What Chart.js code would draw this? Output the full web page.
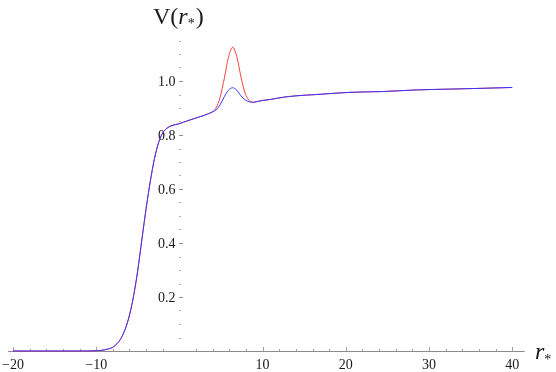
<!DOCTYPE html>
<html>
<head>
<meta charset="utf-8">
<script src="https://cdn.jsdelivr.net/npm/chart.js@4/dist/chart.umd.min.js"></script>
<style>
html,body{margin:0;padding:0;background:#fff;}
canvas{display:block;}
</style>
</head>
<body>
<canvas id="c" width="556" height="372"></canvas>
<script>
// r* sample positions
const rStar = [-20, -15, -12, -10, -9, -8.5, -8, -7.5, -7, -6.5, -6, -5.5, -5, -4.5, -4, -3.5, -3, -2.5, -2, -1.5, -1, 0, 1, 2, 3, 3.5, 4, 4.4, 4.9, 5.4, 5.9, 6.4, 6.9, 7.4, 7.9, 8.4, 8.9, 9.5, 10, 11, 12.5, 14, 16.5, 20.5, 24.5, 28.5, 32.5, 36.5, 40];
// blue potential
const blueV = [0, 0, 0, 0.001, 0.004, 0.008, 0.014, 0.027, 0.048, 0.082, 0.133, 0.205, 0.300, 0.415, 0.528, 0.628, 0.712, 0.772, 0.808, 0.825, 0.834, 0.842, 0.853, 0.863, 0.873, 0.879, 0.886, 0.893, 0.912, 0.942, 0.966, 0.975, 0.966, 0.945, 0.930, 0.923, 0.921, 0.925, 0.928, 0.932, 0.940, 0.945, 0.950, 0.958, 0.961, 0.967, 0.970, 0.973, 0.976];
// red potential
const redV = [0, 0, 0, 0.001, 0.004, 0.008, 0.014, 0.027, 0.048, 0.082, 0.133, 0.205, 0.300, 0.415, 0.528, 0.628, 0.712, 0.772, 0.808, 0.825, 0.834, 0.842, 0.853, 0.863, 0.873, 0.879, 0.886, 0.900, 0.940, 1.010, 1.088, 1.125, 1.090, 1.015, 0.955, 0.928, 0.922, 0.925, 0.928, 0.932, 0.940, 0.945, 0.950, 0.958, 0.961, 0.967, 0.970, 0.973, 0.976];
// tick labels
const xTickLabels = [-20, -10, 10, 20, 30, 40];
const xMinorTicks = [-20,-18,-16,-14,-12,-10,-8,-6,-4,-2,2,4,6,8,10,12,14,16,18,20,22,24,26,28,30,32,34,36,38,40];
const yTickLabels = [0.2, 0.4, 0.6, 0.8, 1.0];
const yMinorTicks = [0.05,0.1,0.15,0.25,0.3,0.35,0.45,0.5,0.55,0.65,0.7,0.75,0.85,0.9,0.95,1.05,1.1,1.15];

const toPts = (vals) => rStar.map((x, i) => ({x: x, y: vals[i]}));
const SERIF = "'Liberation Serif', 'Times New Roman', 'DejaVu Serif', serif";

const axesPlugin = {
  id: 'mathAxes',
  beforeDatasetsDraw(chart) {
    const ctx = chart.ctx;
    const xs = chart.scales.x, ys = chart.scales.y;
    const ca = chart.chartArea;
    const y0 = ys.getPixelForValue(0);
    const x0 = xs.getPixelForValue(0);
    ctx.save();
    // x axis line
    ctx.strokeStyle = '#8c8c8c';
    ctx.lineWidth = 1;
    ctx.beginPath();
    ctx.moveTo(ca.left, Math.round(y0) + 0.5);
    ctx.lineTo(ca.right, Math.round(y0) + 0.5);
    ctx.stroke();
    // x ticks
    ctx.strokeStyle = '#a0a0a0';
    xMinorTicks.forEach(v => {
      const px = Math.round(xs.getPixelForValue(v)) + 0.5;
      const len = (v % 10 === 0) ? 4 : 2;
      ctx.beginPath();
      ctx.moveTo(px, Math.round(y0));
      ctx.lineTo(px, Math.round(y0) - len);
      ctx.stroke();
    });
    // y ticks (no axis line visible)
    ctx.strokeStyle = '#b0b0b0';
    yMinorTicks.forEach(v => {
      const py = Math.round(ys.getPixelForValue(v)) + 0.5;
      ctx.beginPath();
      ctx.moveTo(Math.round(x0), py);
      ctx.lineTo(Math.round(x0) + 2, py);
      ctx.stroke();
    });
    ctx.strokeStyle = '#909090';
    yTickLabels.forEach(v => {
      const py = Math.round(ys.getPixelForValue(v)) + 0.5;
      ctx.beginPath();
      ctx.moveTo(Math.round(x0), py);
      ctx.lineTo(Math.round(x0) + 4, py);
      ctx.stroke();
    });
    // tick labels
    ctx.fillStyle = '#1a1a1a';
    ctx.font = "14px " + SERIF;
    ctx.textAlign = 'center';
    ctx.textBaseline = 'alphabetic';
    xTickLabels.forEach(v => {
      const px = xs.getPixelForValue(v);
      const t = v < 0 ? '\u2212' + Math.abs(v) : String(v);
      ctx.fillText(t, px, y0 + 18);
    });
    ctx.textAlign = 'right';
    ctx.textBaseline = 'middle';
    yTickLabels.forEach(v => {
      const py = ys.getPixelForValue(v);
      ctx.fillText(v.toFixed(1), x0 - 4, py + 1);
    });
    // axis titles
    ctx.textAlign = 'left';
    ctx.textBaseline = 'alphabetic';
    // V(r*)
    let tx = 153, ty = 24;
    ctx.font = "24px " + SERIF;
    ctx.fillText('V(', tx, ty); tx += ctx.measureText('V(').width;
    ctx.font = "italic 24px " + SERIF;
    ctx.fillText('r', tx, ty); tx += ctx.measureText('r').width;
    ctx.font = "14px " + SERIF;
    ctx.fillText('*', tx, ty + 4); tx += ctx.measureText('*').width + 1;
    ctx.font = "24px " + SERIF;
    ctx.fillText(')', tx, ty);
    // r*
    tx = 535; ty = 359;
    ctx.font = "italic 24px " + SERIF;
    ctx.fillText('r', tx, ty); tx += ctx.measureText('r').width;
    ctx.font = "14px " + SERIF;
    ctx.fillText('*', tx, ty + 5);
    ctx.restore();
  }
};

new Chart(document.getElementById('c'), {
  type: 'scatter',
  data: {
    datasets: [
      { label: 'blue', data: toPts(blueV), showLine: true, borderColor: '#3535ff', borderWidth: 1, pointRadius: 0, cubicInterpolationMode: 'monotone', fill: false },
      { label: 'red', data: toPts(redV), showLine: true, borderColor: '#ff4040', borderWidth: 1, pointRadius: 0, cubicInterpolationMode: 'monotone', fill: false }
    ]
  },
  options: {
    responsive: false,
    animation: false,
    devicePixelRatio: 1,
    layout: { padding: { left: 8, right: 31.3, top: 27, bottom: 15.6 } },
    plugins: { legend: { display: false }, tooltip: { enabled: false } },
    scales: {
      x: { type: 'linear', min: -20.6, max: 41.5, display: false },
      y: { type: 'linear', min: -0.02, max: 1.2, display: false }
    }
  },
  plugins: [axesPlugin]
});
</script>
</body>
</html>
